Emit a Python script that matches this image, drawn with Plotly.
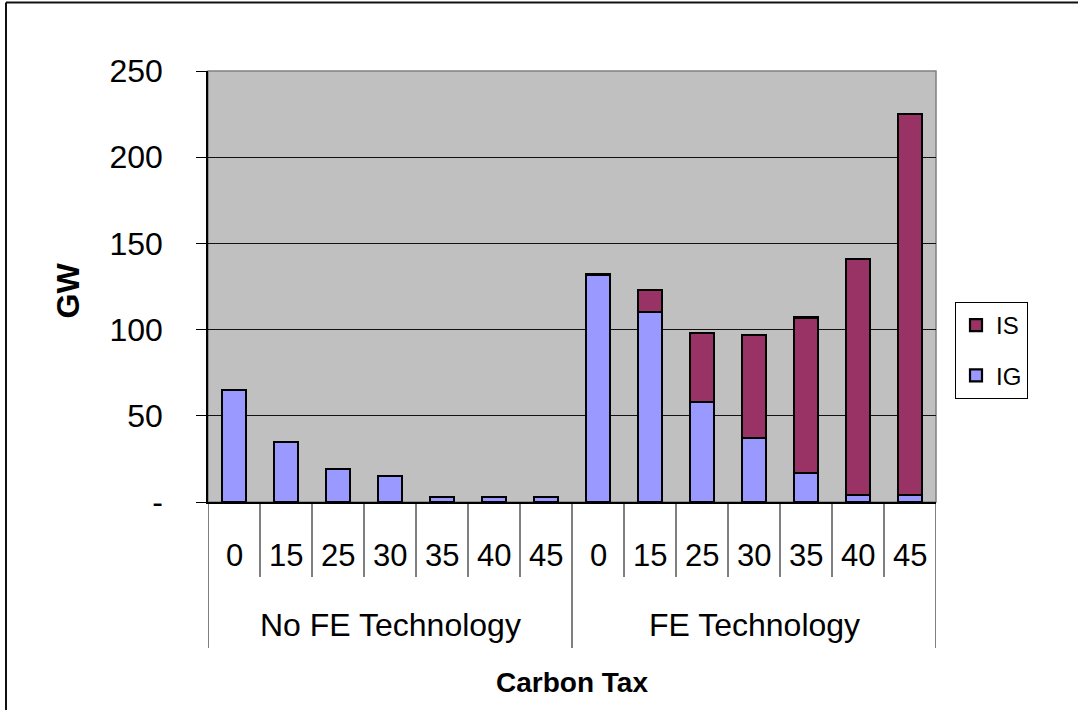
import plotly.graph_objects as go

# Carbon tax levels within each technology scenario
groups = ["No FE Technology", "FE Technology"]
tax_levels = ["0", "15", "25", "30", "35", "40", "45"]

# Installed capacity (GW) per scenario, stacked IG (bottom) + IS (top)
ig_no_fe = [65, 35, 19, 15, 3, 3, 3]
is_no_fe = [0, 0, 0, 0, 0, 0, 0]
ig_fe = [132, 110, 58, 37, 17, 4, 4]
is_fe = [0, 13, 40, 60, 90, 137, 221]

y_ticks = [0, 50, 100, 150, 200, 250]
y_tick_text = ["-", "50", "100", "150", "200", "250"]

IG_COLOR = "#9999FF"
IS_COLOR = "#993366"
FONT = "Liberation Sans, Arial, sans-serif"

W, H = 1078, 710
L, R, T, B = 208, 142, 71, 208
plot_h = H - T - B

def py(pixel_y):
    """Pixel row (from top of page) -> paper y coordinate."""
    return (H - B - pixel_y) / plot_h

def px(pixel_x):
    return (pixel_x - L) / (W - L - R)

n_cat = len(tax_levels)
x_pos = list(range(2 * n_cat))
ig_vals = ig_no_fe + ig_fe
is_vals = is_no_fe + is_fe
# empty segments are left out so no zero-height outline is drawn
is_plot = [v if v else None for v in is_vals]

fig = go.Figure()
fig.add_trace(go.Bar(
    x=x_pos, y=ig_vals, name="IG", legendgroup="IG", legendrank=2,
    marker=dict(color=IG_COLOR, line=dict(color="black", width=2.2)),
))
fig.add_trace(go.Bar(
    x=x_pos, y=is_plot, name="IS", legendgroup="IS", legendrank=1,
    marker=dict(color=IS_COLOR, line=dict(color="black", width=2.2)),
))

shapes = []
annotations = []

# plot-area frame (grey), axes drawn over it in black
shapes.append(dict(type="rect", xref="paper", yref="paper", x0=0, x1=1, y0=0, y1=1,
                   line=dict(color="#808080", width=1.5), layer="below"))

# category separators and tick labels under the axis
for k in range(2 * n_cat + 1):
    boundary = k - 0.5
    is_group_edge = k % n_cat == 0
    shapes.append(dict(type="line", xref="x", yref="paper",
                       x0=boundary, x1=boundary, y0=0,
                       y1=py(648) if is_group_edge else py(577),
                       line=dict(color="black", width=1)))
for i, xv in enumerate(x_pos):
    annotations.append(dict(xref="x", yref="paper", x=xv, y=py(555),
                            text=tax_levels[i % n_cat], showarrow=False,
                            xanchor="center", yanchor="middle",
                            font=dict(family=FONT, size=31, color="black")))
for g, name in enumerate(groups):
    annotations.append(dict(xref="x", yref="paper", x=g * n_cat + (n_cat - 1) / 2,
                            y=py(625), text=name, showarrow=False,
                            xanchor="center", yanchor="middle",
                            font=dict(family=FONT, size=32, color="black")))

# axis titles
annotations.append(dict(xref="paper", yref="paper", x=0.5, y=py(682),
                        text="<b>Carbon Tax</b>", showarrow=False,
                        xanchor="center", yanchor="middle",
                        font=dict(family=FONT, size=28, color="black")))
annotations.append(dict(xref="paper", yref="paper", x=px(67.5), y=py(291),
                        text="<b>GW</b>", showarrow=False, textangle=-90,
                        xanchor="center", yanchor="middle",
                        font=dict(family=FONT, size=32, color="black")))

# outer chart border (left and top edges)
shapes.append(dict(type="line", xref="paper", yref="paper",
                   x0=px(6), x1=px(W + 5), y0=py(2.5), y1=py(2.5),
                   line=dict(color="#111111", width=2)))
shapes.append(dict(type="line", xref="paper", yref="paper",
                   x0=px(6), x1=px(6), y0=py(2.5), y1=py(H + 5),
                   line=dict(color="#111111", width=2)))

fig.update_layout(
    width=W, height=H,
    margin=dict(l=L, r=R, t=T, b=B, pad=0),
    paper_bgcolor="white",
    plot_bgcolor="#C0C0C0",
    barmode="stack",
    bargap=0.54,
    font=dict(family=FONT, color="black"),
    shapes=shapes,
    annotations=annotations,
    legend=dict(
        x=px(955), y=py(302), xanchor="left", yanchor="top",
        bgcolor="white", bordercolor="black", borderwidth=1,
        traceorder="grouped", tracegroupgap=16,
        font=dict(family=FONT, size=24, color="black"),
    ),
    xaxis=dict(
        range=[-0.5, 2 * n_cat - 0.5],
        showticklabels=False, ticks="", showgrid=False, zeroline=False,
        showline=True, linecolor="black", linewidth=1.5,
        fixedrange=True,
    ),
    yaxis=dict(
        range=[0, 250],
        tickvals=y_ticks, ticktext=y_tick_text,
        ticks="outside", ticklen=10, tickcolor="black", tickwidth=1,
        ticklabelstandoff=27,
        tickfont=dict(family=FONT, size=32, color="black"),
        showgrid=True, gridcolor="#111111", gridwidth=1,
        zeroline=False,
        showline=True, linecolor="black", linewidth=1.5,
        fixedrange=True,
    ),
)

fig.write_html("out.html")
